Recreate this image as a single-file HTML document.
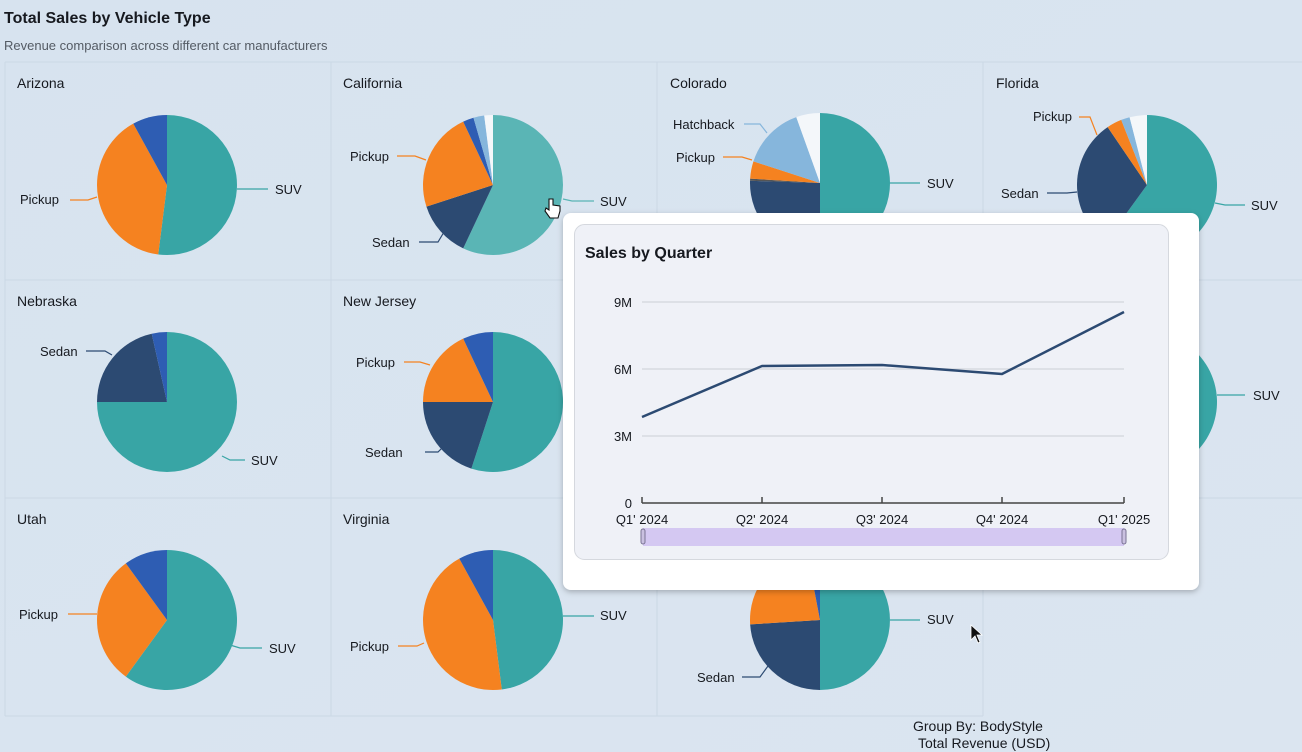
<!DOCTYPE html>
<html><head><meta charset="utf-8">
<style>
html,body{margin:0;padding:0;width:1302px;height:752px;overflow:hidden;background:#d9e5f0;font-family:"Liberation Sans",sans-serif;}
svg text{font-family:"Liberation Sans",sans-serif;}
</style></head><body>
<svg width="1302" height="752" viewBox="0 0 1302 752" xmlns="http://www.w3.org/2000/svg">
<defs>
<linearGradient id="bg" x1="0" y1="0" x2="1" y2="1"><stop offset="0" stop-color="#d7e3ef"/><stop offset="1" stop-color="#dbe5f0"/></linearGradient>
<filter id="sh" x="-5%" y="-5%" width="110%" height="115%"><feDropShadow dx="0" dy="2" stdDeviation="3" flood-color="#000" flood-opacity="0.25"/></filter>
</defs>
<rect width="1302" height="752" fill="url(#bg)"/>
<text x="4" y="23" font-size="16" font-weight="bold" fill="#16191f">Total Sales by Vehicle Type</text>
<text x="4" y="50" font-size="13" fill="#545b64">Revenue comparison across different car manufacturers</text>
<g stroke="#cbd8e5" stroke-width="1" fill="none">
<line x1="5" y1="62" x2="1302" y2="62"/>
<line x1="5" y1="280" x2="1302" y2="280"/>
<line x1="5" y1="498" x2="1302" y2="498"/>
<line x1="5" y1="716" x2="983" y2="716"/>
<line x1="5" y1="62" x2="5" y2="716"/>
<line x1="331" y1="62" x2="331" y2="716"/>
<line x1="657" y1="62" x2="657" y2="716"/>
<line x1="983" y1="62" x2="983" y2="716"/>
</g>
<g font-size="14" fill="#16191f">
<text x="17" y="88">Arizona</text><text x="343" y="88">California</text><text x="670" y="88">Colorado</text><text x="996" y="88">Florida</text>
<text x="17" y="306">Nebraska</text><text x="343" y="306">New Jersey</text>
<text x="17" y="524">Utah</text><text x="343" y="524">Virginia</text>
</g>
<g id="pies"></g>
<g font-size="13" fill="#16191f" stroke-width="1.2" fill-opacity="1">
<!-- Arizona -->
<path d="M237,189 H268" stroke="#38a5a5" fill="none"/><text x="275" y="194">SUV</text>
<path d="M97,197 L88,200 H70" stroke="#f58220" fill="none"/><text x="20" y="204">Pickup</text>
<!-- California -->
<path d="M563,199 L572,201 H594" stroke="#5ab5b5" fill="none"/><text x="600" y="206">SUV</text>
<path d="M426,160 L415,156 H397" stroke="#f58220" fill="none"/><text x="350" y="161">Pickup</text>
<path d="M444,232 L438,242 H419" stroke="#2c4a72" fill="none"/><text x="372" y="247">Sedan</text>
<!-- Colorado -->
<path d="M890,183 H920" stroke="#38a5a5" fill="none"/><text x="927" y="188">SUV</text>
<path d="M767,133 L760,124 H744" stroke="#86b6dc" fill="none"/><text x="673" y="129">Hatchback</text>
<path d="M752,160 L742,157 H723" stroke="#f58220" fill="none"/><text x="676" y="162">Pickup</text>
<!-- Florida -->
<path d="M1215,203 L1225,205 H1245" stroke="#38a5a5" fill="none"/><text x="1251" y="210">SUV</text>
<path d="M1097,135 L1090,117 H1079" stroke="#f58220" fill="none"/><text x="1033" y="121">Pickup</text>
<path d="M1077,192 L1067,193 H1047" stroke="#2c4a72" fill="none"/><text x="1001" y="198">Sedan</text>
<!-- Nebraska -->
<path d="M222,456 L230,460 H245" stroke="#38a5a5" fill="none"/><text x="251" y="465">SUV</text>
<path d="M112,355 L105,351 H86" stroke="#2c4a72" fill="none"/><text x="40" y="356">Sedan</text>
<!-- New Jersey -->
<path d="M430,365 L420,362 H404" stroke="#f58220" fill="none"/><text x="356" y="367">Pickup</text>
<path d="M445,445 L438,452 H425" stroke="#2c4a72" fill="none"/><text x="365" y="457">Sedan</text>
<!-- row2 col4 -->
<path d="M1217,395 H1245" stroke="#38a5a5" fill="none"/><text x="1253" y="400">SUV</text>
<!-- Utah -->
<path d="M230,645 L240,648 H262" stroke="#38a5a5" fill="none"/><text x="269" y="653">SUV</text>
<path d="M97,614 H68" stroke="#f58220" fill="none"/><text x="19" y="619">Pickup</text>
<!-- Virginia -->
<path d="M563,616 H594" stroke="#38a5a5" fill="none"/><text x="600" y="620">SUV</text>
<path d="M424,643 L417,646 H398" stroke="#f58220" fill="none"/><text x="350" y="651">Pickup</text>
<!-- row3 col3 -->
<path d="M890,620 H920" stroke="#38a5a5" fill="none"/><text x="927" y="624">SUV</text>
<path d="M768,666 L760,677 H742" stroke="#2c4a72" fill="none"/><text x="697" y="682">Sedan</text>
</g>
<text x="913" y="731" font-size="14" fill="#16191f">Group By: BodyStyle</text>
<text x="918" y="748" font-size="14" fill="#16191f">Total Revenue (USD)</text>
<!-- cursor -->
<path d="M971,625 L971,640 L975,636 L978,643 L980,642 L977,635 L982,635 Z" fill="#111" stroke="#fff" stroke-width="0.8"/>
<!-- popup -->
<rect x="563" y="213" width="636" height="377" rx="8" fill="#ffffff" filter="url(#sh)"/>
<rect x="574.5" y="224.5" width="594" height="335" rx="10" fill="#eff1f7" stroke="#d5d8de"/>
<text x="585" y="258" font-size="16" font-weight="bold" fill="#16191f">Sales by Quarter</text>
<g stroke="#d7dae0" stroke-width="1.5">
<line x1="642" y1="302" x2="1124" y2="302"/><line x1="642" y1="369" x2="1124" y2="369"/><line x1="642" y1="436" x2="1124" y2="436"/>
</g>
<g font-size="13" fill="#16191f" text-anchor="end">
<text x="632" y="307">9M</text><text x="632" y="374">6M</text><text x="632" y="441">3M</text><text x="632" y="508">0</text>
</g>
<g stroke="#444" stroke-width="1.5" fill="none">
<line x1="642" y1="503" x2="1124" y2="503"/>
<line x1="642" y1="497" x2="642" y2="503"/><line x1="762" y1="497" x2="762" y2="503"/><line x1="882" y1="497" x2="882" y2="503"/><line x1="1002" y1="497" x2="1002" y2="503"/><line x1="1124" y1="497" x2="1124" y2="503"/>
</g>
<g font-size="13" fill="#16191f" text-anchor="middle">
<text x="642" y="524">Q1' 2024</text><text x="762" y="524">Q2' 2024</text><text x="882" y="524">Q3' 2024</text><text x="1002" y="524">Q4' 2024</text><text x="1124" y="524">Q1' 2025</text>
</g>
<polyline points="642,417 762,366 882,365 1002,374 1124,312" fill="none" stroke="#2c4a72" stroke-width="2.5" stroke-linejoin="round"/>
<rect x="643" y="528" width="481" height="18" fill="#d4c8f2"/>
<rect x="641" y="529" width="4" height="15" rx="2" fill="#c9c0e0" stroke="#7a7394"/>
<rect x="1122" y="529" width="4" height="15" rx="2" fill="#c9c0e0" stroke="#7a7394"/>
<!-- hand cursor -->
<path d="M549,199 L549,210 L546,208 L545,211 L550,218 L558,218 L560,211 L560,206 L553,205 L553,199 Z" fill="#fff" stroke="#111" stroke-width="1.1"/>
</svg>
<script>
var T="#38a5a5",T2="#5ab5b5",O="#f58220",B="#2e5db3",D="#2c4a72",L="#86b6dc",W="#f4f7fa";
var pies=[
[167,185,[[.52,T],[.92,O],[1,B]]],
[493,185,[[.57,T2],[.70,D],[.93,O],[.955,B],[.98,L],[1,W]]],
[820,183,[[.5,T],[.755,D],[.76,"#555"],[.80,O],[.945,L],[1,W]]],
[1147,185,[[.6,T],[.905,D],[.94,O],[.96,L],[1,W]]],
[167,402,[[.75,T],[.965,D],[1,B]]],
[493,402,[[.55,T],[.75,D],[.93,O],[1,B]]],
[1147,402,[[.6,T],[.9,D],[1,B]]],
[167,620,[[.6,T],[.9,O],[1,B]]],
[493,620,[[.48,T],[.92,O],[1,B]]],
[820,620,[[.5,T],[.74,D],[.97,O],[1,B]]]
];
var r=70,g=document.getElementById("pies"),s="";
function pt(cx,cy,f){var a=f*2*Math.PI;return [cx+r*Math.sin(a),cy-r*Math.cos(a)];}
pies.forEach(function(p){var cx=p[0],cy=p[1],st=0;p[2].forEach(function(sl){var e=sl[0],a=pt(cx,cy,st),b=pt(cx,cy,e),lg=(e-st)>.5?1:0;
s+='<path d="M'+cx+','+cy+' L'+a[0].toFixed(2)+','+a[1].toFixed(2)+' A'+r+','+r+' 0 '+lg+' 1 '+b[0].toFixed(2)+','+b[1].toFixed(2)+' Z" fill="'+sl[1]+'"/>';st=e;});});
g.innerHTML=s;
</script>
</body></html>
